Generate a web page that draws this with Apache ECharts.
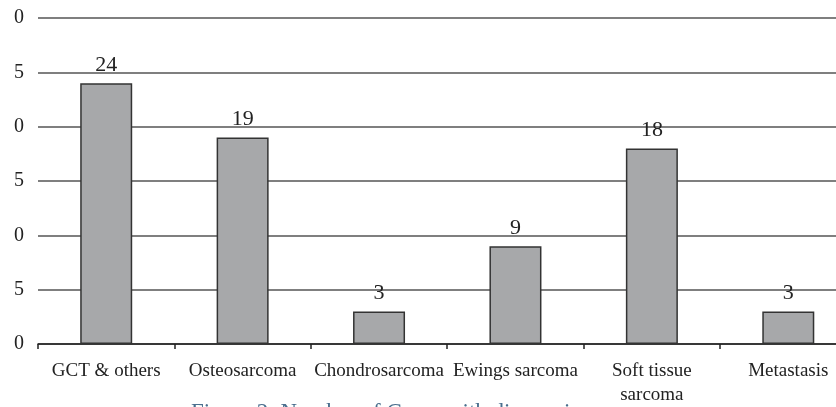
<!DOCTYPE html>
<html>
<head>
<meta charset="utf-8">
<script src="https://cdn.jsdelivr.net/npm/echarts@6/dist/echarts.min.js"></script>
<style>
html,body{margin:0;padding:0;background:#fff;}
#chart{width:836px;height:407px;}
</style>
</head>
<body>
<div id="chart"></div>
<script>
const categories = ["GCT & others", "Osteosarcoma", "Chondrosarcoma", "Ewings sarcoma", "Soft tissue\nsarcoma", "Metastasis"];
const values = [24, 19, 3, 9, 18, 3];
const yTicks = [0, 5, 10, 15, 20, 25, 30];
const caption = "Figure 2: Number of Cases with diagnosis";

const chart = echarts.init(document.getElementById('chart'), null, {renderer: 'canvas'});
const font = "'Liberation Serif', 'DejaVu Serif', serif";
chart.setOption({
  animation: false,
  backgroundColor: '#fff',
  title: {
    text: caption,
    left: 186,
    top: 396,
    textStyle: {fontFamily: font, fontSize: 23, fontWeight: 'normal', color: '#4a6f8e'}
  },
  grid: {left: 38, right: -20.5, top: 18, bottom: 63, outerBoundsMode: 'none', containLabel: false},
  xAxis: {
    type: 'category',
    data: categories,
    axisLine: {lineStyle: {color: '#222', width: 1.5}},
    axisTick: {show: true, length: 5, lineStyle: {color: '#222', width: 1.5}},
    axisLabel: {interval: 0, margin: 15, fontFamily: font, fontSize: 19, color: '#222', lineHeight: 24}
  },
  yAxis: {
    type: 'value',
    min: yTicks[0],
    max: yTicks[yTicks.length - 1],
    interval: 5,
    axisLine: {show: false},
    axisTick: {show: false},
    axisLabel: {margin: 14, fontFamily: font, fontSize: 20, color: '#222',
      formatter: v => String(v % 10)},
    splitLine: {lineStyle: {color: '#555', width: 1.5}}
  },
  series: [{
    type: 'bar',
    data: values,
    barWidth: 52,
    itemStyle: {color: '#a7a8aa', borderColor: '#333', borderWidth: 1.5},
    label: {show: true, position: 'top', distance: 7, fontFamily: font, fontSize: 22, color: '#222'}
  }]
});
</script>
</body>
</html>
